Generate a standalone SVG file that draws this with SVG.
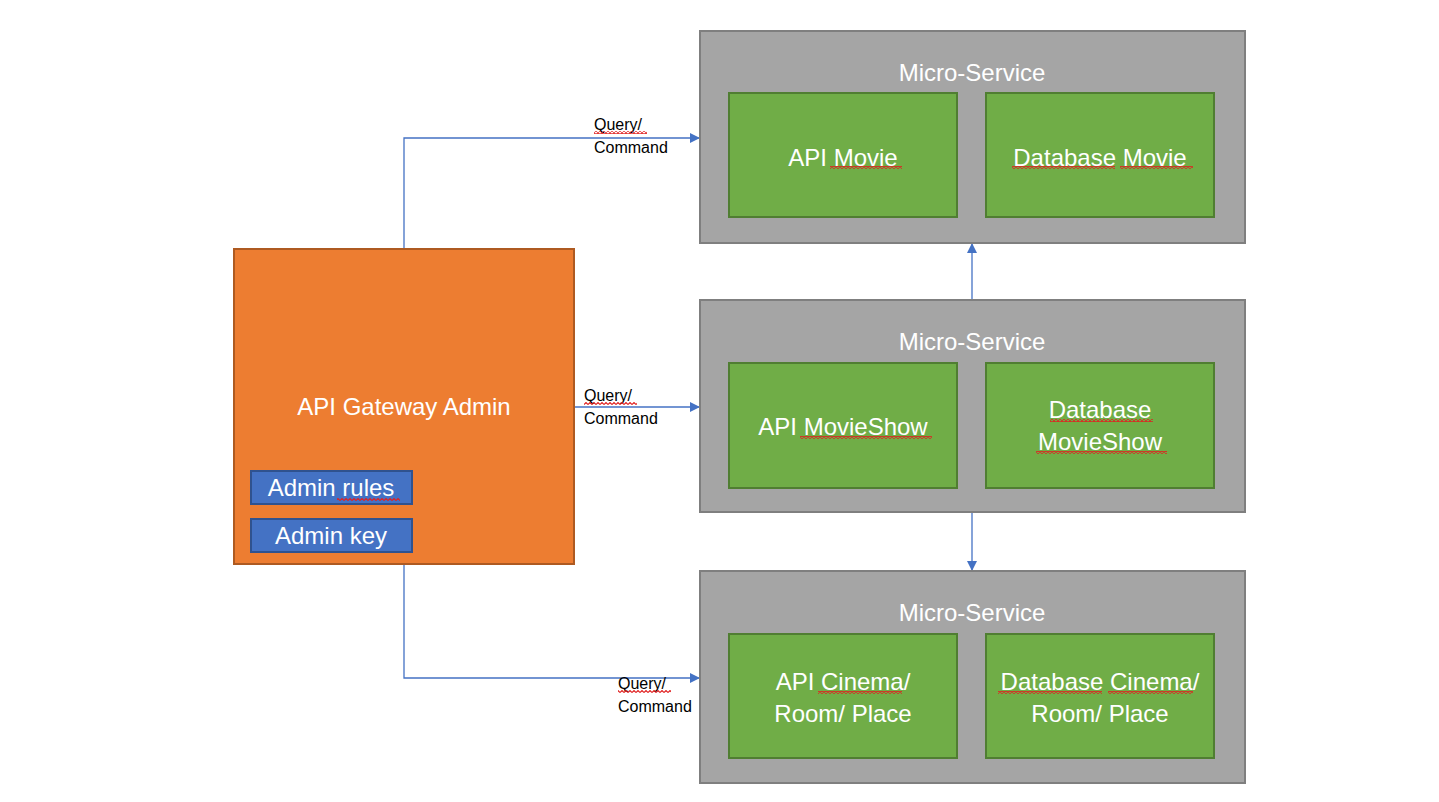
<svg xmlns="http://www.w3.org/2000/svg" width="1439" height="802" viewBox="0 0 1439 802">
<defs>
<marker id="arr" viewBox="0 0 10 10" refX="10" refY="5" markerWidth="10" markerHeight="10" markerUnits="userSpaceOnUse" orient="auto">
<path d="M0,0 L10,5 L0,10 Z" fill="#4472c4"/>
</marker>
<pattern id="sq" width="4" height="3" patternUnits="userSpaceOnUse">
<path d="M0,2.5 L2,0.5 L4,2.5" fill="none" stroke="#e02020" stroke-width="1.1"/>
</pattern>
<style>
.ms{fill:#a5a5a5;stroke:#7f7f7f;stroke-width:2}
.gr{fill:#70ad47;stroke:#507e32;stroke-width:2}
.bl{fill:#4472c4;stroke:#2f528f;stroke-width:2}
.or{fill:#ed7d31;stroke:#ae5a21;stroke-width:2}
.t{font-family:"Liberation Sans",Arial,sans-serif;font-size:24px;fill:#ffffff;text-anchor:middle}
.s{font-family:"Liberation Sans",Arial,sans-serif;font-size:16px;fill:#000000}
.c{fill:none;stroke:#4472c4;stroke-width:1.3}
.u{fill:url(#sq)}
</style>
</defs>
<rect width="1439" height="802" fill="#ffffff"/>

<g id="connectors">
<path class="c" d="M404,249 V138 H700" marker-end="url(#arr)"/>
<path class="c" d="M574,407 H700" marker-end="url(#arr)"/>
<path class="c" d="M404,564 V678 H700" marker-end="url(#arr)"/>
<path class="c" d="M972,300 V243" marker-end="url(#arr)"/>
<path class="c" d="M972,512 V571" marker-end="url(#arr)"/>
<text class="s" x="594" y="130">Query/</text>
<text class="s" x="594" y="153">Command</text>
<rect class="u" x="594" y="131" width="53" height="3"/>
<text class="s" x="584" y="401">Query/</text>
<text class="s" x="584" y="424">Command</text>
<rect class="u" x="584" y="402" width="53" height="3"/>
<text class="s" x="618" y="689">Query/</text>
<text class="s" x="618" y="712">Command</text>
<rect class="u" x="618" y="690" width="53" height="3"/>
</g>

<g id="gateway">
<rect class="or" x="234" y="249" width="340" height="315"/>
<text class="t" x="404" y="415">API Gateway Admin</text>
</g>
<g id="admin-rules">
<rect class="bl" x="251" y="471" width="161" height="33"/>
<text class="t" x="331" y="496">Admin rules</text>
<rect class="u" x="337" y="498" width="63" height="3"/>
</g>
<g id="admin-key">
<rect class="bl" x="251" y="519" width="161" height="33"/>
<text class="t" x="331" y="544">Admin key</text>
</g>

<g id="ms-movie">
<rect class="ms" x="700" y="31" width="545" height="212"/>
<text class="t" x="972" y="81">Micro-Service</text>
</g>
<g id="api-movie">
<rect class="gr" x="729" y="93" width="228" height="124"/>
<text class="t" x="843" y="166">API Movie</text>
<rect class="u" x="830" y="166" width="72" height="3"/>
</g>
<g id="db-movie">
<rect class="gr" x="986" y="93" width="228" height="124"/>
<text class="t" x="1100" y="166">Database Movie</text>
<rect class="u" x="1012" y="166" width="103" height="3"/>
<rect class="u" x="1120" y="166" width="73" height="3"/>
</g>

<g id="ms-movieshow">
<rect class="ms" x="700" y="300" width="545" height="212"/>
<text class="t" x="972" y="350">Micro-Service</text>
</g>
<g id="api-movieshow">
<rect class="gr" x="729" y="363" width="228" height="125"/>
<text class="t" x="843" y="435">API MovieShow</text>
<rect class="u" x="800" y="436" width="132" height="3"/>
</g>
<g id="db-movieshow">
<rect class="gr" x="986" y="363" width="228" height="125"/>
<text class="t" x="1100" y="418">Database</text>
<text class="t" x="1100" y="450">MovieShow</text>
<rect class="u" x="1050" y="419" width="103" height="3"/>
<rect class="u" x="1036" y="451" width="131" height="3"/>
</g>

<g id="ms-cinema">
<rect class="ms" x="700" y="571" width="545" height="212"/>
<text class="t" x="972" y="621">Micro-Service</text>
</g>
<g id="api-cinema">
<rect class="gr" x="729" y="634" width="228" height="124"/>
<text class="t" x="843" y="690">API Cinema/</text>
<text class="t" x="843" y="722">Room/ Place</text>
<rect class="u" x="818" y="691" width="84" height="3"/>
</g>
<g id="db-cinema">
<rect class="gr" x="986" y="634" width="228" height="124"/>
<text class="t" x="1100" y="690">Database Cinema/</text>
<text class="t" x="1100" y="722">Room/ Place</text>
<rect class="u" x="998" y="691" width="104" height="3"/>
<rect class="u" x="1108" y="691" width="85" height="3"/>
</g>
</svg>
